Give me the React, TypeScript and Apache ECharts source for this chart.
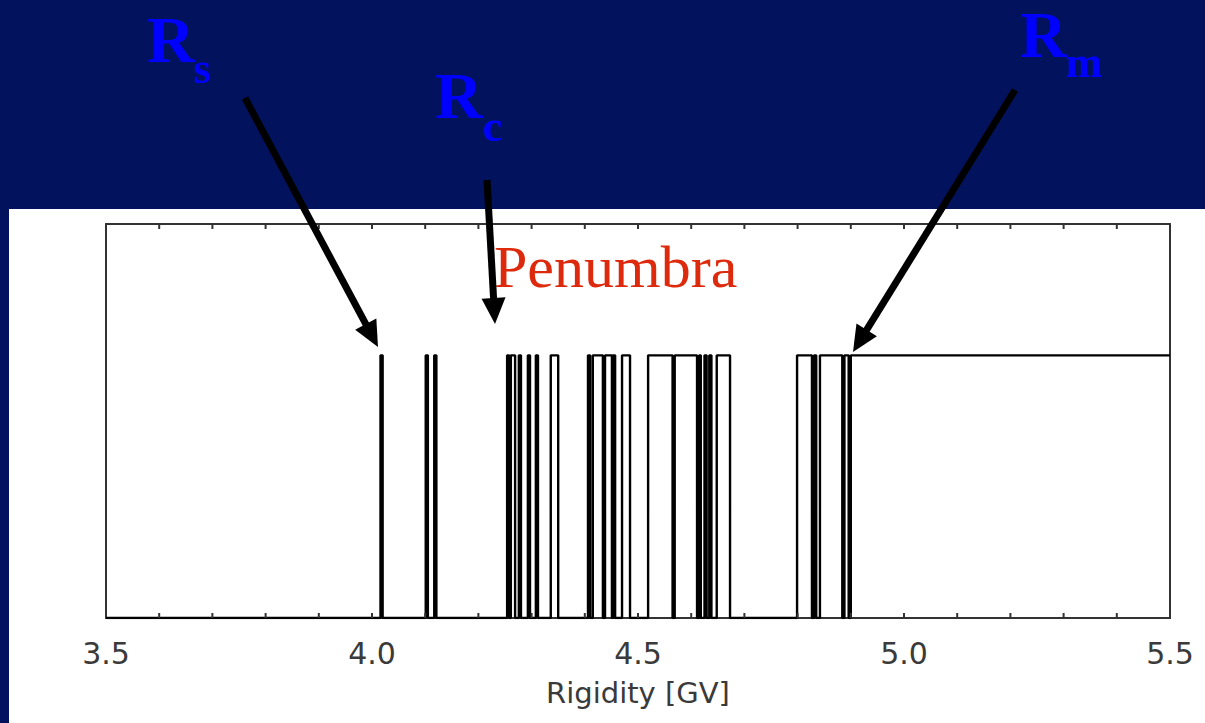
import React, { useEffect, useRef } from "react";
import * as echarts from "echarts";

// ---- data ----
const xRange = [3.5, 5.5];
const yRange = [0, 1.5];
const labelStep = 0.5;
const tickValues = [
  3.6, 3.7, 3.8, 3.9, 4.0, 4.1, 4.2, 4.3, 4.4, 4.5,
  4.6, 4.7, 4.8, 4.9, 5.0, 5.1, 5.2, 5.3, 5.4,
];
const allowedLevel = 1;
const startState = 0; // 0 = forbidden, 1 = allowed
// rigidities [GV] where the trajectory switches between forbidden and allowed
const transitions = [
  4.016, 4.02,
  4.101, 4.105,
  4.117, 4.121,
  4.254, 4.258, 4.261, 4.269,
  4.276, 4.28,
  4.293, 4.297,
  4.308, 4.312,
  4.336, 4.35,
  4.406, 4.41,
  4.415, 4.434,
  4.438, 4.451, 4.453, 4.457,
  4.47, 4.485,
  4.519, 4.565,
  4.569, 4.611,
  4.615, 4.618,
  4.625, 4.629,
  4.634, 4.638,
  4.648, 4.673,
  4.799, 4.827,
  4.831, 4.835,
  4.842, 4.884,
  4.888, 4.896,
  4.9,
];
const axisTitle = "Rigidity [GV]";
const penumbraLabel = "Penumbra";
const markerLabels = [
  { main: "R", sub: "s" },
  { main: "R", sub: "c" },
  { main: "R", sub: "m" },
];

// ---- styling / layout ----
const NAVY = "#03125c";
const BLUE = "#0000ff";
const RED = "#dd2a0c";
const FRAME = "#333";

function arrow(x1: number, y1: number, x2: number, y2: number) {
  const headLen = 26;
  const headW = 24;
  const dx = x2 - x1;
  const dy = y2 - y1;
  const L = Math.hypot(dx, dy);
  const ux = dx / L;
  const uy = dy / L;
  const bx = x2 - ux * headLen;
  const by = y2 - uy * headLen;
  const px = -uy;
  const py = ux;
  return [
    {
      type: "line",
      z: 20,
      shape: { x1, y1, x2: bx + ux * 3, y2: by + uy * 3 },
      style: { stroke: "#000", lineWidth: 7 },
    },
    {
      type: "polygon",
      z: 20,
      shape: {
        points: [
          [x2, y2],
          [bx + (px * headW) / 2, by + (py * headW) / 2],
          [bx - (px * headW) / 2, by - (py * headW) / 2],
        ],
      },
      style: { fill: "#000" },
    },
  ];
}

function marker(
  lab: { main: string; sub: string },
  x: number,
  baseMain: number,
  subX: number,
  baseSub: number,
  fsMain = 66,
  fsSub = 44
) {
  return [
    {
      type: "text",
      z: 15,
      x,
      y: baseMain - 0.3375 * fsMain,
      style: {
        text: lab.main,
        fontFamily: "Liberation Serif",
        fontWeight: "bold",
        fontSize: fsMain,
        lineHeight: 48,
        fill: BLUE,
        align: "left",
        verticalAlign: "middle",
      },
    },
    {
      type: "text",
      z: 15,
      x: subX,
      y: baseSub - 0.3375 * fsSub,
      style: {
        text: lab.sub,
        fontFamily: "Liberation Serif",
        fontWeight: "bold",
        fontSize: fsSub,
        lineHeight: 32,
        fill: BLUE,
        align: "left",
        verticalAlign: "middle",
      },
    },
  ];
}

export default function App() {
  const ref = useRef<HTMLDivElement>(null);

  useEffect(() => {
    if (!ref.current) return;
    const chart = echarts.init(ref.current, undefined, { renderer: "svg" });

    const pts: number[][] = [[xRange[0], startState * allowedLevel]];
    let s = startState;
    for (const t of transitions) {
      pts.push([t, s * allowedLevel]);
      s = 1 - s;
      pts.push([t, s * allowedLevel]);
    }
    pts.push([xRange[1], s * allowedLevel]);

    const isLabel = (v: number) =>
      Math.abs(v / labelStep - Math.round(v / labelStep)) < 1e-6;

    const xBase = {
      type: "value",
      min: xRange[0],
      max: xRange[1],
      interval: labelStep,
      splitLine: { show: false },
      axisLine: { show: true, onZero: false, lineStyle: { color: FRAME, width: 2 } },
      axisTick: { show: false },
    };
    const yBase = {
      type: "value",
      min: yRange[0],
      max: yRange[1],
      splitLine: { show: false },
      axisLabel: { show: false },
      axisTick: { show: false },
      axisLine: { show: true, onZero: false, lineStyle: { color: FRAME, width: 2 } },
    };

    chart.setOption({
      animation: false,
      backgroundColor: "transparent",
      grid: { left: 106, top: 224, right: 35, bottom: 105, containLabel: false },
      xAxis: [
        {
          ...xBase,
          position: "bottom",
          axisLabel: {
            show: true,
            margin: 20,
            color: "#3a3a3a",
            fontFamily: "DejaVu Sans",
            fontSize: 30,
            formatter: (v: number) => (isLabel(v) ? v.toFixed(1) : ""),
          },
          name: axisTitle,
          nameLocation: "middle",
          nameGap: 60,
          nameTextStyle: { color: "#3a3a3a", fontFamily: "DejaVu Sans", fontSize: 29 },
        },
        { ...xBase, position: "top", axisLabel: { show: false } },
      ],
      yAxis: [
        { ...yBase, position: "left" },
        { ...yBase, position: "right" },
      ],
      series: [
        {
          type: "line",
          xAxisIndex: 0,
          yAxisIndex: 0,
          data: pts,
          symbol: "none",
          lineStyle: { color: "#000", width: 2.4 },
          z: 5,
        },
        {
          type: "custom",
          xAxisIndex: 0,
          yAxisIndex: 0,
          data: tickValues.map((v) => [v]),
          silent: true,
          z: 6,
          renderItem: (params: any, api: any) => {
            const x = api.value(0);
            const pb = api.coord([x, yRange[0]]);
            const pt = api.coord([x, yRange[1]]);
            const st = { stroke: FRAME, lineWidth: 2 };
            return {
              type: "group",
              children: [
                { type: "line", shape: { x1: pb[0], y1: pb[1], x2: pb[0], y2: pb[1] - 5 }, style: st },
                { type: "line", shape: { x1: pt[0], y1: pt[1], x2: pt[0], y2: pt[1] + 5 }, style: st },
              ],
            };
          },
        },
      ],
      graphic: [
        {
          type: "text",
          z: 15,
          x: 494,
          y: 287 - 0.3375 * 60,
          style: {
            text: penumbraLabel,
            fontFamily: "Liberation Serif",
            fontSize: 60,
            fill: RED,
            align: "left",
            verticalAlign: "middle",
          },
        },
        ...marker(markerLabels[0], 147, 62, 194, 83),
        ...marker(markerLabels[1], 435, 118, 483, 141),
        ...marker(markerLabels[2], 1020, 57, 1066, 77, 65, 44),
        ...arrow(245, 98, 378, 347),
        ...arrow(487, 180, 495, 324),
        ...arrow(1015, 90, 853, 352),
      ],
    });

    return () => chart.dispose();
  }, []);

  return (
    <div
      style={{
        position: "absolute",
        left: 0,
        top: 0,
        width: 1205,
        height: 723,
        background: NAVY,
        overflow: "hidden",
      }}
    >
      <div
        style={{
          position: "absolute",
          left: 9,
          top: 209,
          width: 1196,
          height: 514,
          background: "#fff",
        }}
      />
      <div
        ref={ref}
        style={{ position: "absolute", left: 0, top: 0, width: 1205, height: 723 }}
      />
    </div>
  );
}
